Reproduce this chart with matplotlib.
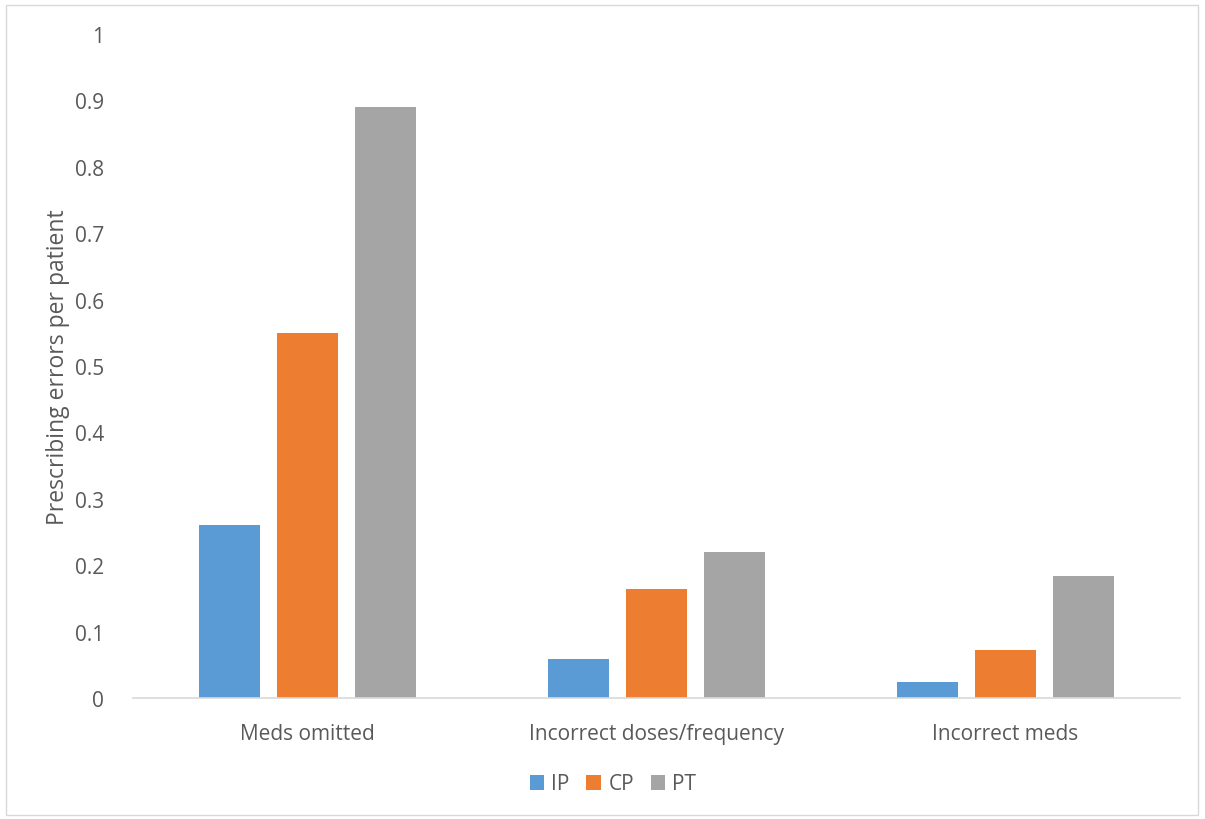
import matplotlib.pyplot as plt
import numpy as np
from matplotlib.patches import Rectangle

categories = ['Meds omitted', 'Incorrect doses/frequency', 'Incorrect meds']
series = ['IP', 'CP', 'PT']
ip = [0.26, 0.059, 0.024]
cp = [0.55, 0.164, 0.072]
pt = [0.89, 0.22, 0.183]
colors = ['#5b9bd5', '#ed7d31', '#a5a5a5']
yticks = [0, 0.1, 0.2, 0.3, 0.4, 0.5, 0.6, 0.7, 0.8, 0.9, 1]

plt.rcParams['font.family'] = ['Open Sans', 'DejaVu Sans']
txt = '#595959'

fig = plt.figure(figsize=(12.05, 8.2), dpi=100)
ax = fig.add_axes([133 / 1205, 1 - 699 / 820, 1047 / 1205, 664 / 820])

x = np.arange(len(categories))
step = 0.223
w = 0.175
for i, (vals, c, name) in enumerate(zip([ip, cp, pt], colors, series)):
    ax.bar(x + (i - 1) * step, vals, w, color=c, label=name)

ax.set_xlim(-0.5, 2.5)
ax.set_ylim(0, 1)
ax.set_yticks(yticks)
ax.set_yticklabels([('%g' % t) for t in yticks])
ax.set_xticks(x)
ax.set_xticklabels(categories)
ax.tick_params(axis='both', length=0, labelsize=15, colors=txt)
ax.tick_params(axis='y', pad=21)
ax.tick_params(axis='x', pad=18)
for s in ['top', 'right', 'left']:
    ax.spines[s].set_visible(False)
ax.spines['bottom'].set_color('#d9d9d9')
ax.spines['bottom'].set_linewidth(1.2)
ax.set_ylabel('Prescribing errors per patient', fontsize=16.5, color=txt, labelpad=3)

fig.legend(loc='center', bbox_to_anchor=(613 / 1205, 1 - 785 / 820), ncol=3, frameon=False,
           fontsize=15, labelcolor=txt, handlelength=0.7, handleheight=0.7,
           handletextpad=0.35, columnspacing=0.8)

fig.patches.append(Rectangle((6 / 1205, 4 / 820), 1192 / 1205, 810 / 820,
                             transform=fig.transFigure, fill=False,
                             edgecolor='#d9d9d9', linewidth=1))

fig.savefig('out.png', dpi=100)
